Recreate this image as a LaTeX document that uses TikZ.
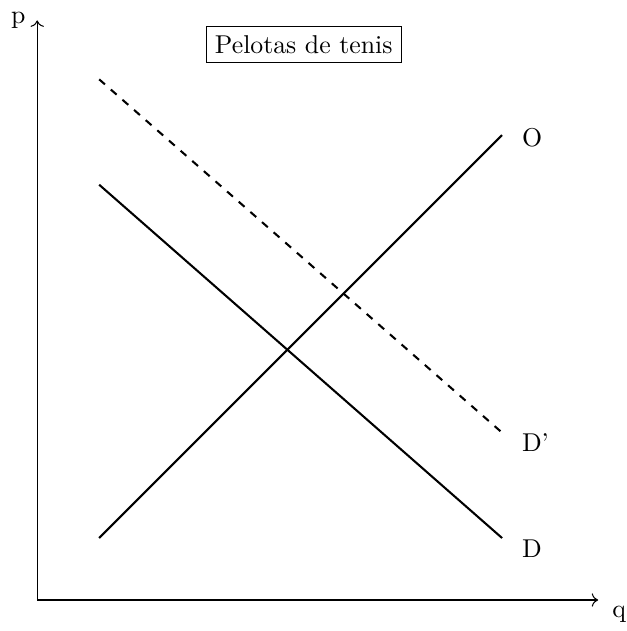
\documentclass[tikz,border=0pt]{standalone}
\usepackage{tikz}
\usetikzlibrary{arrows.meta}

\begin{document}
\begin{tikzpicture}[x=0.845cm,y=0.845cm,
  curve/.style={black,thick},
  every node/.style={font=\normalsize}]
  \useasboundingbox (-0.6,-0.5) rectangle (9.5,9.68);

  % Axes
  \coordinate (origin) at (0,0);
  \coordinate (qend) at (9.05,0);
  \coordinate (pend) at (0,9.35);
  \draw[->] (origin) -- (qend) node[below right,xshift=2pt,yshift=1pt] {q};
  \draw[->] (origin) -- (pend) node[left=1pt] {p};

  % Supply and demand
  \coordinate (O1) at (1,1);
  \coordinate (O2) at (7.5,7.5);
  \coordinate (D1) at (1,6.7);
  \coordinate (D2) at (7.5,1);
  \coordinate (Dp1) at (1,8.4);
  \coordinate (Dp2) at (7.5,2.7);

  \draw[curve] (O1) -- (O2) node[right=4pt,yshift=-1pt] {O};
  \draw[curve] (D1) -- (D2) node[right=4pt,yshift=-4pt] {D};
  \draw[curve,dashed] (Dp1) -- (Dp2) node[right=4pt,yshift=-4pt] {D'};

  \node[draw] (title) at (4.3,8.96) {Pelotas de tenis};
\end{tikzpicture}
\end{document}
